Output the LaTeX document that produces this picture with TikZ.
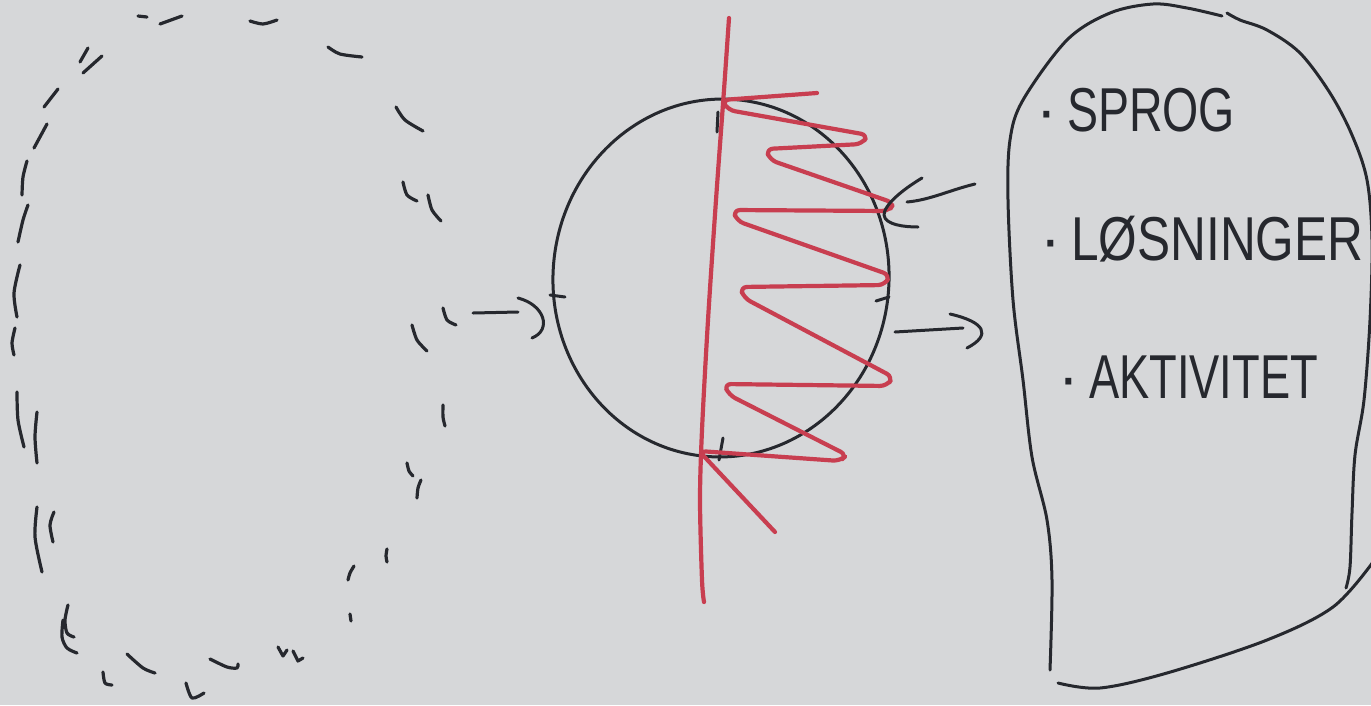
\documentclass[tikz,border=0pt]{standalone}
\usepackage{fontspec}
\setmainfont{Liberation Sans}
\definecolor{paper}{RGB}{214,215,217}
\definecolor{inkc}{RGB}{38,40,46}
\definecolor{redc}{RGB}{200,62,80}
\tikzset{
  ink/.style={line width=3pt, line cap=round, line join=round, draw=inkc},
  dashink/.style={line width=3.2pt, line cap=round, line join=round, draw=inkc},
  redink/.style={line width=4.2pt, line cap=round, line join=round, draw=redc},
  word/.style={anchor=base west, inner sep=0pt, text=inkc, font=\fontsize{62}{62}\selectfont}
}
\begin{document}
\begin{tikzpicture}[x=1pt,y=-1pt]
\fill[paper] (0,0) rectangle (1371,705);
\useasboundingbox (0,0) rectangle (1371,705);

% ---------- dashed blob (left) ----------
\draw[dashink] (138,16) -- (147,17);
\draw[dashink] (160,24) -- (182,16);
\draw[dashink] plot[smooth] coordinates {(250,21) (263,24) (277,20)};
\draw[dashink] (80,62) -- (88,48);
\draw[dashink] (83,73) -- (102,56);
\draw[dashink] plot[smooth] coordinates {(328,47) (340,54) (362,57)};
\draw[dashink] (44,107) -- (58,89);
\draw[dashink] (34,148) -- (47,124);
\draw[dashink] plot[smooth] coordinates {(396,107) (405,120) (423,131)};
\draw[dashink] plot[smooth] coordinates {(22,195) (23,177) (27,161)};
\draw[dashink] plot[smooth] coordinates {(18,242) (23,220) (28,205)};
\draw[dashink] plot[smooth] coordinates {(403,182) (407,195) (417,201)};
\draw[dashink] plot[smooth] coordinates {(428,195) (432,210) (441,221)};
\draw[dashink] plot[smooth] coordinates {(20,265) (14,293) (17,317)};
\draw[dashink] plot[smooth] coordinates {(15,328) (12,343) (14,355)};
\draw[dashink] plot[smooth] coordinates {(443,308) (447,320) (456,325)};
\draw[dashink] plot[smooth] coordinates {(412,325) (417,340) (427,351)};
\draw[dashink] plot[smooth] coordinates {(17,392) (18,420) (24,447)};
\draw[dashink] plot[smooth] coordinates {(37,412) (35,437) (37,463)};
\draw[dashink] plot[smooth] coordinates {(443,405) (443,417) (445,426)};
\draw[dashink] plot[smooth] coordinates {(407,463) (409,471) (413,476)};
\draw[dashink] plot[smooth] coordinates {(421,480) (418,488) (417,498)};
\draw[dashink] plot[smooth] coordinates {(37,507) (35,537) (42,572)};
\draw[dashink] plot[smooth] coordinates {(54,512) (50,525) (53,542)};
\draw[dashink] plot[smooth] coordinates {(387,549) (386,556) (387,562)};
\draw[dashink] plot[smooth] coordinates {(354,566) (350,573) (348,580)};
\draw[dashink] (350,614) -- (351,621);
\draw[dashink] plot[smooth] coordinates {(68,605) (65,620) (67,633) (74,637)};
\draw[dashink] plot[smooth] coordinates {(63,620) (62,637) (67,648) (77,653)};
\draw[dashink] plot[smooth] coordinates {(103,672) (105,683) (112,685)};
\draw[dashink] plot[smooth] coordinates {(127,654) (143,668) (155,673)};
\draw[dashink] plot[smooth] coordinates {(186,683) (192,698) (204,693)};
\draw[dashink] plot[smooth] coordinates {(210,659) (227,667) (237,668) (238,664)};
\draw[dashink] (278,647) -- (283,656) -- (287,650);
\draw[dashink] (293,651) -- (298,661) -- (303,658);

% ---------- circle ----------
\draw[ink, rotate around={-4:(721,278)}] (721,278) ellipse [x radius=168, y radius=179];
\coordinate (ctop) at (718,112);
\coordinate (cleft) at (550,295);
\coordinate (cright) at (889,297);
\coordinate (cbot) at (723,438);
\draw[ink] (ctop) -- ++(-1,20);
\draw[ink] (cleft) -- ++(15,2);
\draw[ink] (cright) -- ++(-13,4);
\draw[ink] (cbot) -- ++(-4,22);

% ---------- red axis and zigzag ----------
\draw[redink] plot[smooth, tension=0.5] coordinates {(729,18) (724,90) (716,200) (708,320) (702,430) (700,500) (702,580) (704,602)};
\draw[redink, rounded corners=7pt] (817,93) -- (722,100) -- (728,110) -- (868,135) -- (862,144)
  -- (766,149) -- (770,160) -- (894,203) -- (889,211) -- (733,210) -- (737,221)
  -- (890,275) -- (885,285) -- (740,287) -- (744,298) -- (893,377) -- (887,386)
  -- (724,384) -- (729,395) -- (847,455) -- (840,461) -- (699,451) -- (775,532);

% ---------- arrows ----------
\coordinate (la1) at (473,313);
\coordinate (la2) at (518,312);
\coordinate (lh1) at (518,298);
\coordinate (lh2) at (532,338);
\draw[ink] (la1) -- (la2);
\draw[ink] (lh1) .. controls (545,305) and (552,330) .. (lh2);

\coordinate (ua1) at (975,184);
\coordinate (ua2) at (907,202);
\coordinate (uh1) at (922,178);
\coordinate (uh2) at (918,227);
\draw[ink] (ua1) .. controls (950,190) and (930,200) .. (ua2);
\draw[ink] (uh1) .. controls (902,190) and (884,205) .. (884,215) .. controls (885,225) and (905,227) .. (uh2);

\coordinate (ra1) at (895,332);
\coordinate (ra2) at (963,328);
\coordinate (rh1) at (950,314);
\coordinate (rh2) at (967,348);
\draw[ink] (ra1) -- (ra2);
\draw[ink] (rh1) .. controls (985,322) and (992,335) .. (rh2);

% ---------- right blob ----------
\draw[ink] plot[smooth, tension=0.55] coordinates {
 (1050,670) (1052,580) (1047,520) (1032,457) (1023,380) (1013,300) (1008,200)
 (1010,140) (1023,100) (1067,40) (1110,13) (1153,4) (1187,8) (1222,16)};
\draw[ink] plot[smooth, tension=0.55] coordinates {
 (1227,13) (1240,20) (1267,30) (1300,53) (1330,93) (1352,135) (1367,180)
 (1372,240) (1370,320) (1364,400) (1355,455) (1352,513) (1350,567) (1346,588)};
\draw[ink] plot[smooth, tension=0.55] coordinates {
 (1373,562) (1333,607) (1267,640) (1167,673) (1100,688) (1058,683)};

% ---------- texts ----------
\node[word] (t1) at (1036,131) {·\,\scalebox{0.75}[1]{SPROG}};
\node[word] (t2) at (1040,260) {·\,\scalebox{0.8}[1]{LØSNINGER}};
\node[word] (t3) at (1058,398) {·\,\scalebox{0.73}[1]{AKTIVITET}};
\end{tikzpicture}
\end{document}
